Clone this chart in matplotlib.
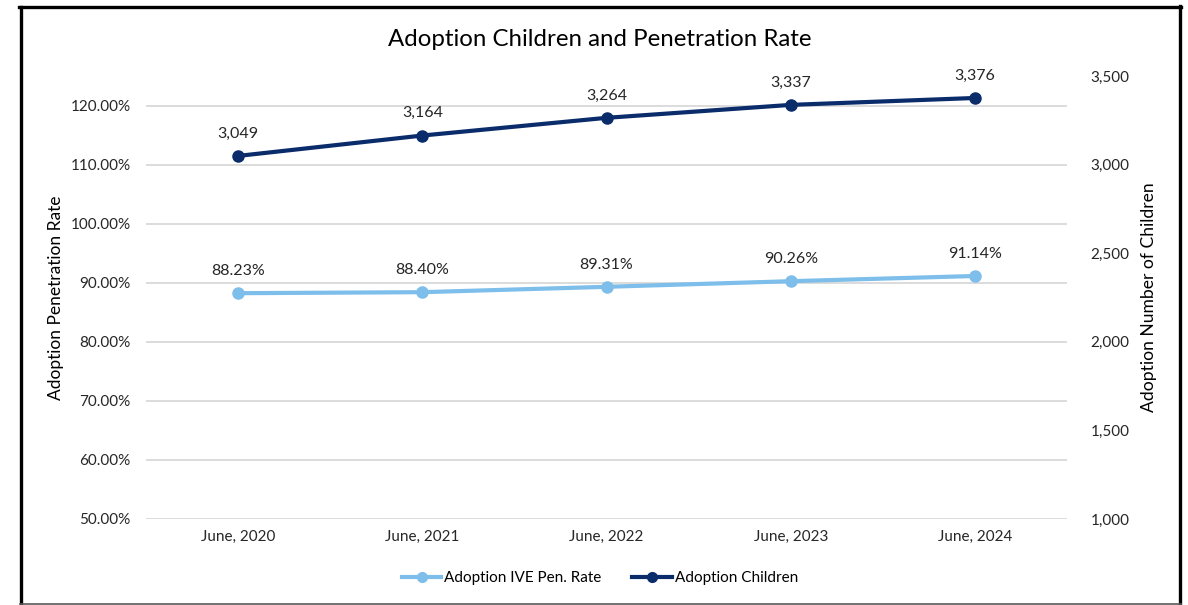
import matplotlib
matplotlib.use('Agg')
import matplotlib.pyplot as plt
from matplotlib.lines import Line2D
from matplotlib.ticker import FuncFormatter

plt.rcParams['font.family'] = ['Lato', 'DejaVu Sans']

# Данные
years = ['June, 2020', 'June, 2021', 'June, 2022', 'June, 2023', 'June, 2024']
pen_rate = [88.23, 88.40, 89.31, 90.26, 91.14]
children = [3049, 3164, 3264, 3337, 3376]

light_blue = '#7DBEEA'
navy = '#0A2C6A'
text_col = '#262626'

fig = plt.figure(figsize=(11.88, 6.05), dpi=100)
ax = fig.add_axes([146 / 1188, 1 - 519 / 605, (1067 - 146) / 1188, (519 - 76) / 605])
ax2 = ax.twinx()

x = list(range(len(years)))

# Левая ось - процент
ax.plot(x, pen_rate, color=light_blue, lw=3, marker='o', ms=8, zorder=3)
for xi, v in zip(x, pen_rate):
    ax.annotate(f'{v:.2f}%', (xi, v), xytext=(0, 11), textcoords='offset points',
                ha='center', va='bottom', fontsize=11.5, color=text_col)

# Правая ось - количество детей
ax2.plot(x, children, color=navy, lw=3, marker='o', ms=8, zorder=3)
for xi, v in zip(x, children):
    ax2.annotate(f'{v:,}', (xi, v), xytext=(0, 11), textcoords='offset points',
                 ha='center', va='bottom', fontsize=11.5, color=text_col)

ax.set_xlim(-0.5, len(years) - 0.5)
ax.set_ylim(50, 125)
ax.set_yticks(range(50, 121, 10))
ax.yaxis.set_major_formatter(FuncFormatter(lambda v, p: f'{v:.2f}%'))
ax.set_xticks(x)
ax.set_xticklabels(years)
ax.grid(axis='y', color='#D9D9D9', lw=1.3)
ax.set_axisbelow(True)

ax2.set_ylim(1000, 3500)
ax2.set_yticks(range(1000, 3501, 500))
ax2.yaxis.set_major_formatter(FuncFormatter(lambda v, p: f'{int(v):,}'))

for a in (ax, ax2):
    for s in a.spines.values():
        s.set_visible(False)
    a.tick_params(length=0, labelsize=11, labelcolor=text_col)
ax.tick_params(axis='y', pad=11)
ax.tick_params(axis='x', pad=8)
ax2.tick_params(axis='y', pad=17)

ax.set_ylabel('Adoption Penetration Rate', fontsize=12.5, color='black', labelpad=5)
ax2.set_ylabel('Adoption Number of Children', fontsize=12.6, color='black', labelpad=8)

fig.text(600 / 1188, 1 - 40 / 605, 'Adoption Children and Penetration Rate',
         ha='center', va='center', fontsize=17.3, color='black')

handles = [Line2D([], [], color=light_blue, lw=3, marker='o', ms=7),
           Line2D([], [], color=navy, lw=3, marker='o', ms=7)]
fig.legend(handles, ['Adoption IVE Pen. Rate', 'Adoption Children'],
           loc='center', bbox_to_anchor=(600 / 1188, 1 - 578 / 605), ncol=2,
           frameon=False, fontsize=11, handlelength=2.6, columnspacing=2.0,
           handletextpad=0.2)

# Рамка вокруг графика
W, H = 1188, 605
def fx(px):
    return px / W
def fy(py):
    return 1 - py / H
fig.add_artist(Line2D([fx(20.5), fx(20.5)], [fy(6.5), fy(604)], color='black', lw=2.4, transform=fig.transFigure))
fig.add_artist(Line2D([fx(19), fx(1181)], [fy(6.5), fy(6.5)], color='black', lw=2.4, transform=fig.transFigure))
fig.add_artist(Line2D([fx(1180), fx(1180)], [fy(6), fy(604)], color='black', lw=2.4, transform=fig.transFigure))
fig.add_artist(Line2D([fx(20), fx(1181)], [fy(603.5), fy(603.5)], color='#595959', lw=1.2, transform=fig.transFigure))

fig.savefig('out.png', dpi=100)
